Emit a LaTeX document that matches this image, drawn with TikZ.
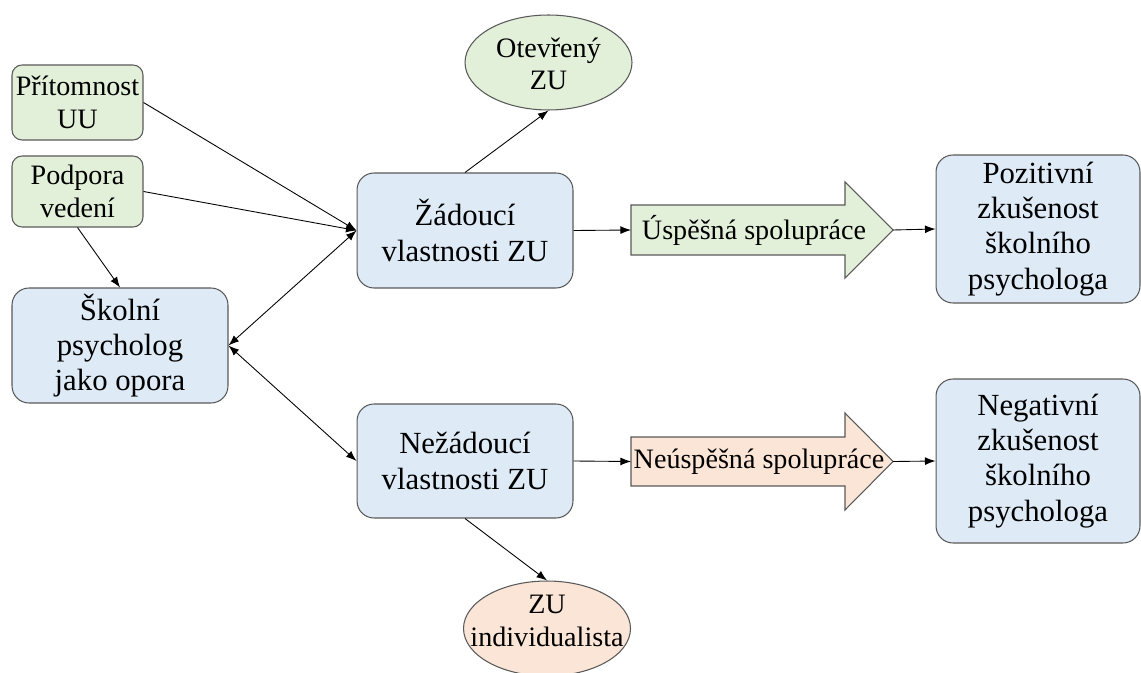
\documentclass[tikz,border=0pt]{standalone}
\usepackage{fontspec}
\setmainfont{Liberation Serif}
\newfontfamily\tnr{Liberation Serif}
\usetikzlibrary{arrows.meta,shapes.geometric}
\definecolor{boxblue}{HTML}{DEEBF7}
\definecolor{boxgreen}{HTML}{E2F0D9}
\definecolor{boxpeach}{HTML}{FBE5D6}
\definecolor{edge}{HTML}{595959}

\begin{document}
\begin{tikzpicture}[x=0.02cm,y=-0.02cm]
 \tikzset{
  box/.style={draw=edge,line width=0.6pt,rounded corners=0.34cm,align=center,inner sep=0pt,
   font=\tnr\fontsize{17.5pt}{20pt}\selectfont},
  bluebox/.style={box,fill=boxblue,minimum width=4.32cm},
  greenbox/.style={box,fill=boxgreen,rounded corners=0.2cm,minimum width=2.62cm,
   font=\tnr\fontsize{16pt}{18.5pt}\selectfont},
  oval/.style={ellipse,draw=edge,line width=0.6pt,inner sep=0pt,
   minimum width=3.34cm,minimum height=1.9cm},
  ovaltext/.style={inner sep=0pt,align=center,font=\tnr\fontsize{16pt}{18.5pt}\selectfont},
  bigarrow/.style={draw=edge,line width=0.6pt,line join=miter},
  arrowtext/.style={inner sep=0pt,font=\tnr\fontsize{16pt}{18.5pt}\selectfont},
  link/.style={line width=0.5pt,-{Latex[length=6pt,width=4.5pt]}},
  twolink/.style={line width=0.5pt,{Latex[length=6pt,width=4.5pt]}-{Latex[length=6pt,width=4.5pt]}}}
 \useasboundingbox (0,0) rectangle (1141,672);
 % left side
 \node[greenbox,minimum height=1.5cm](ptm) at (77.5,102.5){Přítomnost\\UU};
 \node[greenbox,minimum height=1.42cm](pod) at (77.5,191.5){Podpora\\vedení};
 \node[bluebox,minimum height=2.3cm](sp) at (120,345.5){Školní\\psycholog\\jako opora};
 % middle
 \node[bluebox,minimum height=2.3cm](za) at (465,230.5){Žádoucí\\vlastnosti ZU};
 \node[bluebox,minimum height=2.28cm](ne) at (465,461){Nežádoucí\\vlastnosti ZU};
 \node[oval,fill=boxgreen](ot) at (548.5,62.5){};
 \node[ovaltext](otT) at (548.5,64){Otevřený\\ZU};
 \node[oval,fill=boxpeach](ind) at (547,628.5){};
 \node[ovaltext](indT) at (547,621){ZU\\individualista};
 % wide arrows
 \draw[bigarrow,fill=boxgreen] (631,205) -- (845,205) -- (845,182) -- (893,230)
  -- (845,278) -- (845,255) -- (631,255) -- cycle;
 \node[arrowtext](us) at (754,230){Úspěšná spolupráce};
 \coordinate (usL) at (631,230);
 \coordinate (usR) at (893,230);
 \draw[bigarrow,fill=boxpeach] (631,437) -- (845,437) -- (845,413) -- (893,461.5)
  -- (845,510) -- (845,486) -- (631,486) -- cycle;
 \node[arrowtext](nus) at (759,461.5){Neúspěšná spolupráce};
 \coordinate (nusL) at (631,461.5);
 \coordinate (nusR) at (893,461.5);
 % right side
 \node[bluebox,minimum width=4.08cm,minimum height=2.96cm](poz) at (1038,229)
  {Pozitivní\\zkušenost\\školního\\psychologa};
 \node[bluebox,minimum width=4.08cm,minimum height=3.28cm](neg) at (1038,461)
  {Negativní\\zkušenost\\školního\\psychologa};
 % connectors
 \draw[link](ptm.east)--(za.west);
 \draw[link](pod.east)--(za.west);
 \draw[link](pod.south)--(sp.north);
 \draw[twolink](sp.east)--(za.west);
 \draw[twolink](sp.east)--(ne.west);
 \draw[link](za.north)--(ot.south);
 \draw[link](ne.south)--(ind.north);
 \draw[link](za.east)--(usL);
 \draw[link](usR)--(poz.west);
 \draw[link](ne.east)--(nusL);
 \draw[link](nusR)--(neg.west);
\end{tikzpicture}
\end{document}
